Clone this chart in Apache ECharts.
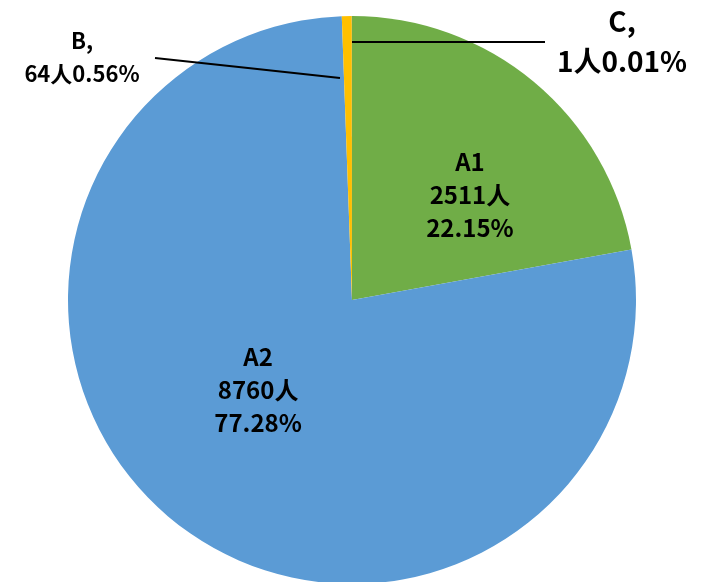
<!DOCTYPE html>
<html lang="zh">
<head>
<meta charset="UTF-8">
<title>pie</title>
<script src="https://cdn.jsdelivr.net/npm/echarts@6/dist/echarts.min.js"></script>
<style>
  html, body { margin: 0; padding: 0; background: #fff; }
  #main { width: 705px; height: 582px; }
</style>
</head>
<body>
<div id="main"></div>
<script>
  // data
  var names = ['A1', 'A2', 'B', 'C'];
  var counts = [2511, 8760, 64, 1];
  var colors = ['#70AD47', '#5B9BD5', '#FFC000', '#A5A5A5'];

  var font = '"Noto Sans CJK SC", sans-serif';

  var chart = echarts.init(document.getElementById('main'));

  function pct(p) { return p.percent.toFixed(2) + '%'; }

  // base pie: slices + inside labels (A1, A2)
  var baseData = names.map(function (n, i) {
    return {
      name: n, value: counts[i], itemStyle: { color: colors[i] },
      label: { show: i < 2 }, labelLine: { show: false }
    };
  });

  // overlay pie, transparent, only for the outside labels (B, C) so their lines sit on top
  var topData = names.map(function (n, i) {
    return {
      name: n, value: counts[i],
      label: { show: i >= 2 }, labelLine: { show: i >= 2 }
    };
  });
  topData[2].label.fontSize = 22;
  topData[2].label.lineHeight = 33;
  topData[3].label.fontSize = 28;
  topData[3].label.lineHeight = 40;

  chart.setOption({
    animation: false,
    series: [{
      type: 'pie',
      center: [352, 300],
      radius: 284,
      startAngle: 90,
      avoidLabelOverlap: false,
      silent: true,
      itemStyle: { borderWidth: 0 },
      label: {
        position: 'inside',
        color: '#000',
        fontWeight: 'bold',
        fontFamily: font,
        fontSize: 24,
        lineHeight: 33,
        align: 'center',
        formatter: function (p) {
          return p.name + '\n' + p.value + '人\n' + pct(p);
        }
      },
      labelLayout: function (p) {
        if (p.dataIndex === 0) return { dx: 25, dy: 6 };
        if (p.dataIndex === 1) return { dx: -3, dy: -23 };
      },
      data: baseData
    }, {
      type: 'pie',
      z: 5,
      center: [352, 300],
      radius: 284,
      startAngle: 90,
      avoidLabelOverlap: false,
      silent: true,
      itemStyle: { color: 'rgba(0,0,0,0)', borderWidth: 0 },
      label: {
        position: 'outside',
        color: '#000',
        fontWeight: 'bold',
        fontFamily: font,
        formatter: function (p) {
          return p.name + ',\n' + p.value + '人' + pct(p);
        }
      },
      labelLine: { lineStyle: { color: '#000', width: 2 } },
      labelLayout: function (p) {
        if (p.dataIndex === 2) return { x: 82, y: 57, align: 'center', verticalAlign: 'middle',
          labelLinePoints: [[340, 78], [248, 68], [155, 58]] };
        if (p.dataIndex === 3) return { x: 622, y: 41, align: 'center', verticalAlign: 'middle',
          labelLinePoints: [[352, 42], [450, 42], [545, 42]] };
      },
      data: topData
    }]
  });
</script>
</body>
</html>
